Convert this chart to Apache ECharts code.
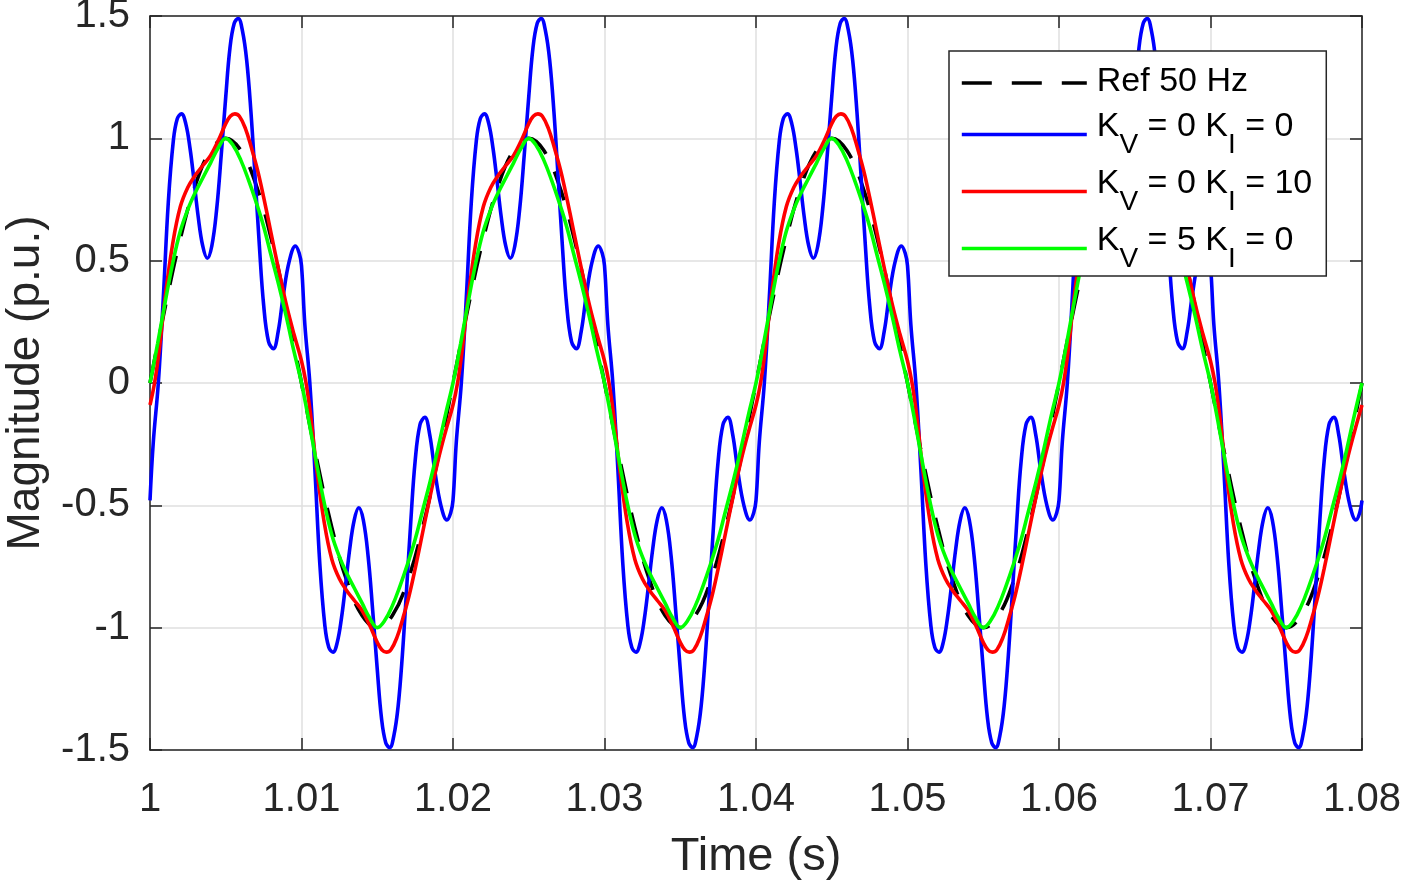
<!DOCTYPE html>
<html>
<head>
<meta charset="utf-8">
<script src="https://cdn.jsdelivr.net/npm/echarts@6/dist/echarts.min.js"></script>
<style>
  html, body { margin: 0; padding: 0; background: #fff; }
  #main { width: 1403px; height: 884px; }
</style>
</head>
<body>
<div id="main"></div>
<script>
// values, [time (s), magnitude (p.u.)]
var refWave = [
  [1.000,0],[1.001,0.31],[1.002,0.59],[1.003,0.81],[1.004,0.95],[1.005,1],[1.006,0.95],[1.007,0.81],[1.008,0.59],[1.009,0.31],
  [1.010,0],[1.011,-0.31],[1.012,-0.59],[1.013,-0.81],[1.014,-0.95],[1.015,-1],[1.016,-0.95],[1.017,-0.81],[1.018,-0.59],[1.019,-0.31],
  [1.020,0],[1.021,0.31],[1.022,0.59],[1.023,0.81],[1.024,0.95],[1.025,1],[1.026,0.95],[1.027,0.81],[1.028,0.59],[1.029,0.31],
  [1.030,0],[1.031,-0.31],[1.032,-0.59],[1.033,-0.81],[1.034,-0.95],[1.035,-1],[1.036,-0.95],[1.037,-0.81],[1.038,-0.59],[1.039,-0.31],
  [1.040,0],[1.041,0.31],[1.042,0.59],[1.043,0.81],[1.044,0.95],[1.045,1],[1.046,0.95],[1.047,0.81],[1.048,0.59],[1.049,0.31],
  [1.050,0],[1.051,-0.31],[1.052,-0.59],[1.053,-0.81],[1.054,-0.95],[1.055,-1],[1.056,-0.95],[1.057,-0.81],[1.058,-0.59],[1.059,-0.31],
  [1.060,0],[1.061,0.31],[1.062,0.59],[1.063,0.81],[1.064,0.95],[1.065,1],[1.066,0.95],[1.067,0.81],[1.068,0.59],[1.069,0.31],
  [1.070,0],[1.071,-0.31],[1.072,-0.59],[1.073,-0.81],[1.074,-0.95],[1.075,-1],[1.076,-0.95],[1.077,-0.81],[1.078,-0.59],[1.079,-0.31],
  [1.080,0]
];

var kv0ki0 = [
  [1.00000,-0.48],[1.00022,-0.24],[1.00055,0],[1.00088,0.35],[1.00121,0.74],[1.00154,0.99],[1.0018,1.08],[1.00208,1.1],[1.00236,1.06],[1.00264,0.96],[1.0029,0.83],[1.00318,0.68],[1.00348,0.56],[1.00378,0.51],[1.00408,0.56],[1.0044,0.71],[1.0047,0.93],[1.005,1.17],[1.00528,1.37],[1.00556,1.47],[1.00582,1.49],[1.0061,1.44],[1.00638,1.32],[1.00666,1.11],[1.00694,0.84],[1.00722,0.56],[1.0075,0.32],[1.00782,0.17],[1.00814,0.14],[1.00846,0.21],[1.0088,0.36],[1.0092,0.5],[1.0096,0.56],[1.00985,0.53],
  [1.01,0.48],[1.01022,0.24],[1.01055,0],[1.01088,-0.35],[1.01121,-0.74],[1.01154,-0.99],[1.0118,-1.08],[1.01208,-1.1],[1.01236,-1.06],[1.01264,-0.96],[1.0129,-0.83],[1.01318,-0.68],[1.01348,-0.56],[1.01378,-0.51],[1.01408,-0.56],[1.0144,-0.71],[1.0147,-0.93],[1.015,-1.17],[1.01528,-1.37],[1.01556,-1.47],[1.01582,-1.49],[1.0161,-1.44],[1.01638,-1.32],[1.01666,-1.11],[1.01694,-0.84],[1.01722,-0.56],[1.0175,-0.32],[1.01782,-0.17],[1.01814,-0.14],[1.01846,-0.21],[1.0188,-0.36],[1.0192,-0.5],[1.0196,-0.56],[1.01985,-0.53],
  [1.02,-0.48],[1.02022,-0.24],[1.02055,0],[1.02088,0.35],[1.02121,0.74],[1.02154,0.99],[1.0218,1.08],[1.02208,1.1],[1.02236,1.06],[1.02264,0.96],[1.0229,0.83],[1.02318,0.68],[1.02348,0.56],[1.02378,0.51],[1.02408,0.56],[1.0244,0.71],[1.0247,0.93],[1.025,1.17],[1.02528,1.37],[1.02556,1.47],[1.02582,1.49],[1.0261,1.44],[1.02638,1.32],[1.02666,1.11],[1.02694,0.84],[1.02722,0.56],[1.0275,0.32],[1.02782,0.17],[1.02814,0.14],[1.02846,0.21],[1.0288,0.36],[1.0292,0.5],[1.0296,0.56],[1.02985,0.53],
  [1.03,0.48],[1.03022,0.24],[1.03055,0],[1.03088,-0.35],[1.03121,-0.74],[1.03154,-0.99],[1.0318,-1.08],[1.03208,-1.1],[1.03236,-1.06],[1.03264,-0.96],[1.0329,-0.83],[1.03318,-0.68],[1.03348,-0.56],[1.03378,-0.51],[1.03408,-0.56],[1.0344,-0.71],[1.0347,-0.93],[1.035,-1.17],[1.03528,-1.37],[1.03556,-1.47],[1.03582,-1.49],[1.0361,-1.44],[1.03638,-1.32],[1.03666,-1.11],[1.03694,-0.84],[1.03722,-0.56],[1.0375,-0.32],[1.03782,-0.17],[1.03814,-0.14],[1.03846,-0.21],[1.0388,-0.36],[1.0392,-0.5],[1.0396,-0.56],[1.03985,-0.53],
  [1.04,-0.48],[1.04022,-0.24],[1.04055,0],[1.04088,0.35],[1.04121,0.74],[1.04154,0.99],[1.0418,1.08],[1.04208,1.1],[1.04236,1.06],[1.04264,0.96],[1.0429,0.83],[1.04318,0.68],[1.04348,0.56],[1.04378,0.51],[1.04408,0.56],[1.0444,0.71],[1.0447,0.93],[1.045,1.17],[1.04528,1.37],[1.04556,1.47],[1.04582,1.49],[1.0461,1.44],[1.04638,1.32],[1.04666,1.11],[1.04694,0.84],[1.04722,0.56],[1.0475,0.32],[1.04782,0.17],[1.04814,0.14],[1.04846,0.21],[1.0488,0.36],[1.0492,0.5],[1.0496,0.56],[1.04985,0.53],
  [1.05,0.48],[1.05022,0.24],[1.05055,0],[1.05088,-0.35],[1.05121,-0.74],[1.05154,-0.99],[1.0518,-1.08],[1.05208,-1.1],[1.05236,-1.06],[1.05264,-0.96],[1.0529,-0.83],[1.05318,-0.68],[1.05348,-0.56],[1.05378,-0.51],[1.05408,-0.56],[1.0544,-0.71],[1.0547,-0.93],[1.055,-1.17],[1.05528,-1.37],[1.05556,-1.47],[1.05582,-1.49],[1.0561,-1.44],[1.05638,-1.32],[1.05666,-1.11],[1.05694,-0.84],[1.05722,-0.56],[1.0575,-0.32],[1.05782,-0.17],[1.05814,-0.14],[1.05846,-0.21],[1.0588,-0.36],[1.0592,-0.5],[1.0596,-0.56],[1.05985,-0.53],
  [1.06,-0.48],[1.06022,-0.24],[1.06055,0],[1.06088,0.35],[1.06121,0.74],[1.06154,0.99],[1.0618,1.08],[1.06208,1.1],[1.06236,1.06],[1.06264,0.96],[1.0629,0.83],[1.06318,0.68],[1.06348,0.56],[1.06378,0.51],[1.06408,0.56],[1.0644,0.71],[1.0647,0.93],[1.065,1.17],[1.06528,1.37],[1.06556,1.47],[1.06582,1.49],[1.0661,1.44],[1.06638,1.32],[1.06666,1.11],[1.06694,0.84],[1.06722,0.56],[1.0675,0.32],[1.06782,0.17],[1.06814,0.14],[1.06846,0.21],[1.0688,0.36],[1.0692,0.5],[1.0696,0.56],[1.06985,0.53],
  [1.07,0.48],[1.07022,0.24],[1.07055,0],[1.07088,-0.35],[1.07121,-0.74],[1.07154,-0.99],[1.0718,-1.08],[1.07208,-1.1],[1.07236,-1.06],[1.07264,-0.96],[1.0729,-0.83],[1.07318,-0.68],[1.07348,-0.56],[1.07378,-0.51],[1.07408,-0.56],[1.0744,-0.71],[1.0747,-0.93],[1.075,-1.17],[1.07528,-1.37],[1.07556,-1.47],[1.07582,-1.49],[1.0761,-1.44],[1.07638,-1.32],[1.07666,-1.11],[1.07694,-0.84],[1.07722,-0.56],[1.0775,-0.32],[1.07782,-0.17],[1.07814,-0.14],[1.07846,-0.21],[1.0788,-0.36],[1.0792,-0.5],[1.0796,-0.56],[1.07985,-0.53],
  [1.08,-0.48]
];

var kv0ki10 = [
  [1.0,-0.09],[1.0003,0],[1.0006,0.13],[1.001,0.35],[1.0015,0.57],[1.002,0.72],[1.0025,0.8],[1.003,0.85],[1.0035,0.89],[1.004,0.93],[1.0045,0.99],[1.005,1.06],[1.0053,1.09],[1.0056,1.1],[1.0059,1.09],[1.0063,1.04],[1.0067,0.96],[1.0071,0.87],[1.0075,0.76],[1.008,0.61],[1.0085,0.46],[1.009,0.32],[1.0095,0.2],
  [1.01,0.09],[1.0103,0],[1.0106,-0.13],[1.011,-0.35],[1.0115,-0.57],[1.012,-0.72],[1.0125,-0.8],[1.013,-0.85],[1.0135,-0.89],[1.014,-0.93],[1.0145,-0.99],[1.015,-1.06],[1.0153,-1.09],[1.0156,-1.1],[1.0159,-1.09],[1.0163,-1.04],[1.0167,-0.96],[1.0171,-0.87],[1.0175,-0.76],[1.018,-0.61],[1.0185,-0.46],[1.019,-0.32],[1.0195,-0.2],
  [1.02,-0.09],[1.0203,0],[1.0206,0.13],[1.021,0.35],[1.0215,0.57],[1.022,0.72],[1.0225,0.8],[1.023,0.85],[1.0235,0.89],[1.024,0.93],[1.0245,0.99],[1.025,1.06],[1.0253,1.09],[1.0256,1.1],[1.0259,1.09],[1.0263,1.04],[1.0267,0.96],[1.0271,0.87],[1.0275,0.76],[1.028,0.61],[1.0285,0.46],[1.029,0.32],[1.0295,0.2],
  [1.03,0.09],[1.0303,0],[1.0306,-0.13],[1.031,-0.35],[1.0315,-0.57],[1.032,-0.72],[1.0325,-0.8],[1.033,-0.85],[1.0335,-0.89],[1.034,-0.93],[1.0345,-0.99],[1.035,-1.06],[1.0353,-1.09],[1.0356,-1.1],[1.0359,-1.09],[1.0363,-1.04],[1.0367,-0.96],[1.0371,-0.87],[1.0375,-0.76],[1.038,-0.61],[1.0385,-0.46],[1.039,-0.32],[1.0395,-0.2],
  [1.04,-0.09],[1.0403,0],[1.0406,0.13],[1.041,0.35],[1.0415,0.57],[1.042,0.72],[1.0425,0.8],[1.043,0.85],[1.0435,0.89],[1.044,0.93],[1.0445,0.99],[1.045,1.06],[1.0453,1.09],[1.0456,1.1],[1.0459,1.09],[1.0463,1.04],[1.0467,0.96],[1.0471,0.87],[1.0475,0.76],[1.048,0.61],[1.0485,0.46],[1.049,0.32],[1.0495,0.2],
  [1.05,0.09],[1.0503,0],[1.0506,-0.13],[1.051,-0.35],[1.0515,-0.57],[1.052,-0.72],[1.0525,-0.8],[1.053,-0.85],[1.0535,-0.89],[1.054,-0.93],[1.0545,-0.99],[1.055,-1.06],[1.0553,-1.09],[1.0556,-1.1],[1.0559,-1.09],[1.0563,-1.04],[1.0567,-0.96],[1.0571,-0.87],[1.0575,-0.76],[1.058,-0.61],[1.0585,-0.46],[1.059,-0.32],[1.0595,-0.2],
  [1.06,-0.09],[1.0603,0],[1.0606,0.13],[1.061,0.35],[1.0615,0.57],[1.062,0.72],[1.0625,0.8],[1.063,0.85],[1.0635,0.89],[1.064,0.93],[1.0645,0.99],[1.065,1.06],[1.0653,1.09],[1.0656,1.1],[1.0659,1.09],[1.0663,1.04],[1.0667,0.96],[1.0671,0.87],[1.0675,0.76],[1.068,0.61],[1.0685,0.46],[1.069,0.32],[1.0695,0.2],
  [1.07,0.09],[1.0703,0],[1.0706,-0.13],[1.071,-0.35],[1.0715,-0.57],[1.072,-0.72],[1.0725,-0.8],[1.073,-0.85],[1.0735,-0.89],[1.074,-0.93],[1.0745,-0.99],[1.075,-1.06],[1.0753,-1.09],[1.0756,-1.1],[1.0759,-1.09],[1.0763,-1.04],[1.0767,-0.96],[1.0771,-0.87],[1.0775,-0.76],[1.078,-0.61],[1.0785,-0.46],[1.079,-0.32],[1.0795,-0.2],
  [1.08,-0.09]
];

var kv5ki0 = [
  [1.0,0],[1.0005,0.16],[1.001,0.33],[1.0015,0.49],[1.002,0.62],[1.0025,0.71],[1.003,0.78],[1.0035,0.84],[1.004,0.9],[1.0045,0.96],[1.005,1],[1.0055,0.97],[1.006,0.91],[1.0065,0.83],[1.007,0.74],[1.0075,0.64],[1.008,0.52],[1.0085,0.4],[1.009,0.27],[1.0095,0.13],
  [1.01,0],[1.0105,-0.16],[1.011,-0.33],[1.0115,-0.49],[1.012,-0.62],[1.0125,-0.71],[1.013,-0.78],[1.0135,-0.84],[1.014,-0.9],[1.0145,-0.96],[1.015,-1],[1.0155,-0.97],[1.016,-0.91],[1.0165,-0.83],[1.017,-0.74],[1.0175,-0.64],[1.018,-0.52],[1.0185,-0.4],[1.019,-0.27],[1.0195,-0.13],
  [1.02,0],[1.0205,0.16],[1.021,0.33],[1.0215,0.49],[1.022,0.62],[1.0225,0.71],[1.023,0.78],[1.0235,0.84],[1.024,0.9],[1.0245,0.96],[1.025,1],[1.0255,0.97],[1.026,0.91],[1.0265,0.83],[1.027,0.74],[1.0275,0.64],[1.028,0.52],[1.0285,0.4],[1.029,0.27],[1.0295,0.13],
  [1.03,0],[1.0305,-0.16],[1.031,-0.33],[1.0315,-0.49],[1.032,-0.62],[1.0325,-0.71],[1.033,-0.78],[1.0335,-0.84],[1.034,-0.9],[1.0345,-0.96],[1.035,-1],[1.0355,-0.97],[1.036,-0.91],[1.0365,-0.83],[1.037,-0.74],[1.0375,-0.64],[1.038,-0.52],[1.0385,-0.4],[1.039,-0.27],[1.0395,-0.13],
  [1.04,0],[1.0405,0.16],[1.041,0.33],[1.0415,0.49],[1.042,0.62],[1.0425,0.71],[1.043,0.78],[1.0435,0.84],[1.044,0.9],[1.0445,0.96],[1.045,1],[1.0455,0.97],[1.046,0.91],[1.0465,0.83],[1.047,0.74],[1.0475,0.64],[1.048,0.52],[1.0485,0.4],[1.049,0.27],[1.0495,0.13],
  [1.05,0],[1.0505,-0.16],[1.051,-0.33],[1.0515,-0.49],[1.052,-0.62],[1.0525,-0.71],[1.053,-0.78],[1.0535,-0.84],[1.054,-0.9],[1.0545,-0.96],[1.055,-1],[1.0555,-0.97],[1.056,-0.91],[1.0565,-0.83],[1.057,-0.74],[1.0575,-0.64],[1.058,-0.52],[1.0585,-0.4],[1.059,-0.27],[1.0595,-0.13],
  [1.06,0],[1.0605,0.16],[1.061,0.33],[1.0615,0.49],[1.062,0.62],[1.0625,0.71],[1.063,0.78],[1.0635,0.84],[1.064,0.9],[1.0645,0.96],[1.065,1],[1.0655,0.97],[1.066,0.91],[1.0665,0.83],[1.067,0.74],[1.0675,0.64],[1.068,0.52],[1.0685,0.4],[1.069,0.27],[1.0695,0.13],
  [1.07,0],[1.0705,-0.16],[1.071,-0.33],[1.0715,-0.49],[1.072,-0.62],[1.0725,-0.71],[1.073,-0.78],[1.0735,-0.84],[1.074,-0.9],[1.0745,-0.96],[1.075,-1],[1.0755,-0.97],[1.076,-0.91],[1.0765,-0.83],[1.077,-0.74],[1.0775,-0.64],[1.078,-0.52],[1.0785,-0.4],[1.079,-0.27],[1.0795,-0.13],
  [1.08,0]
];

var seriesNames = ['Ref 50 Hz', 'K_V = 0 K_I = 0', 'K_V = 0 K_I = 10', 'K_V = 5 K_I = 0'];
var seriesColors = ['#000000', '#0000ff', '#ff0000', '#00ff00'];
var seriesData = [refWave, kv0ki0, kv0ki10, kv5ki0];

var FONT = "'Liberation Sans', Arial, Helvetica, sans-serif";
var INK = '#262626';

var seriesInfo = [];
for (var i = 0; i < seriesNames.length; i++) {
    seriesInfo.push({
        name: seriesNames[i],
        type: 'line',
        data: seriesData[i],
        smooth: 0.4,
        symbol: 'none',
        showSymbol: false,
        xAxisIndex: 0,
        yAxisIndex: 0,
        lineStyle: {
            color: seriesColors[i],
            width: 3.6,
            type: i === 0 ? [30, 20] : 'solid'
        },
        itemStyle: { color: seriesColors[i] },
        emphasis: { disabled: true }
    });
}

// K_V -> K with subscript V ; the plain entry gets a little extra room below
function legendText(name) {
    if (name.indexOf('K_') < 0) {
        return '{r|' + name + '}';
    }
    return '{n|' + name.replace(/K_(\w)/g, 'K}{s|$1}{n|') + '}';
}

var tickStyle = { show: true, inside: true, length: 12, lineStyle: { color: INK, width: 1.5 } };
var lineStyleAxis = { show: true, onZero: false, lineStyle: { color: INK, width: 1.5 } };

var option = {
    animation: false,
    backgroundColor: '#ffffff',
    grid: { left: 150, top: 16, right: 41, height: 734, outerBoundsMode: 'none', containLabel: false },
    legend: {
        data: seriesNames,
        orient: 'vertical',
        left: 949,
        top: 51,
        padding: [14, 14, 3, 11],
        itemGap: 8,
        itemWidth: 125,
        itemHeight: 16,
        backgroundColor: '#ffffff',
        borderColor: INK,
        borderWidth: 1.5,
        borderRadius: 0,
        selectedMode: false,
        itemStyle: { color: 'rgba(0,0,0,0)', borderColor: 'rgba(0,0,0,0)', borderWidth: 0 },
        lineStyle: { width: 3.6 },
        formatter: legendText,
        textStyle: {
            fontFamily: FONT,
            color: '#000',
            padding: [0, 0, 0, 5],
            rich: {
                r: { fontFamily: FONT, fontSize: 34, color: '#000', lineHeight: 36, verticalAlign: 'top', padding: [0, 0, 3, 0] },
                n: { fontFamily: FONT, fontSize: 34, color: '#000', lineHeight: 36, verticalAlign: 'top' },
                s: { fontFamily: FONT, fontSize: 28, color: '#000', verticalAlign: 'top', padding: [21, 0, 0, 0] }
            }
        }
    },
    xAxis: [{
        type: 'value',
        min: 1,
        max: 1.08,
        interval: 0.01,
        position: 'bottom',
        name: 'Time (s)',
        nameLocation: 'middle',
        nameGap: 84,
        nameTextStyle: { fontFamily: FONT, fontSize: 47, color: INK },
        axisLine: lineStyleAxis,
        axisTick: tickStyle,
        axisLabel: { fontFamily: FONT, fontSize: 40, color: INK, margin: 30 },
        splitLine: { show: true, lineStyle: { color: '#dfdfdf', width: 1.5 } }
    }, {
        type: 'value',
        min: 1,
        max: 1.08,
        interval: 0.01,
        position: 'top',
        axisLine: lineStyleAxis,
        axisTick: tickStyle,
        axisLabel: { show: false },
        splitLine: { show: false }
    }],
    yAxis: [{
        type: 'value',
        min: -1.5,
        max: 1.5,
        interval: 0.5,
        position: 'left',
        name: 'Magnitude (p.u.)',
        nameLocation: 'middle',
        nameGap: 101,
        nameTextStyle: { fontFamily: FONT, fontSize: 46, color: INK },
        axisLine: lineStyleAxis,
        axisTick: tickStyle,
        axisLabel: { fontFamily: FONT, fontSize: 40, color: INK, margin: 20, padding: [8, 0, 0, 0] },
        splitLine: { show: true, lineStyle: { color: '#dfdfdf', width: 1.5 } }
    }, {
        type: 'value',
        min: -1.5,
        max: 1.5,
        interval: 0.5,
        position: 'right',
        axisLine: lineStyleAxis,
        axisTick: tickStyle,
        axisLabel: { show: false },
        splitLine: { show: false }
    }],
    series: seriesInfo
};

var myChart = echarts.init(document.getElementById('main'));
myChart.setOption(option);
</script>
</body>
</html>
